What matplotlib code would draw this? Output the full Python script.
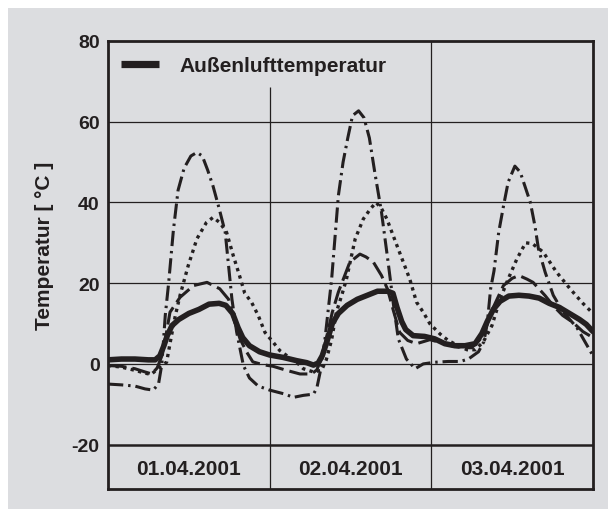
import matplotlib
matplotlib.use("Agg")
import matplotlib.pyplot as plt
from matplotlib.patches import Rectangle
from matplotlib.lines import Line2D

# ---------------- data (hours since 01.04.2001 00:00, temperature in °C) ----------------
dates = ["01.04.2001", "02.04.2001", "03.04.2001"]
yticks = [-20, 0, 20, 40, 60, 80]
legend_label = "Außenlufttemperatur"
ylabel = "Temperatur [ °C ]"

outside_h = [0, 2, 4, 6, 7, 7.7, 8.3, 8.8, 9.5, 10.5, 12, 13.5, 15, 16.5, 17.5, 18.5, 19.3,
             20, 21, 22.5, 24, 26, 28, 29.5, 30.5, 31.2, 31.8, 32.5, 33.3, 34.2, 35.5, 37,
             38.5, 40, 41.5, 42.3, 42.9, 43.6, 44.2, 45.3, 47, 48.5, 50, 51.5, 53, 54.5,
             55.5, 56.3, 57.2, 58.2, 59.5, 61, 62.5, 64, 65.5, 67, 68.5, 70, 71, 72]
outside_t = [1, 1.2, 1.2, 1, 1, 2, 4.5, 7, 9.5, 11, 12.5, 13.5, 14.8, 15, 14.5, 12.5, 9,
             6.5, 4.5, 3, 2.2, 1.6, 0.8, 0.3, -0.3, 0.2, 2, 5.5, 10, 12.5, 14.5, 16,
             17, 18, 18, 17.5, 14, 10.5, 8.5, 7, 6.8, 6.2, 5, 4.5, 4.5, 5,
             7.5, 10.5, 13.5, 15.5, 16.8, 17, 16.8, 16.3, 15, 14, 12.5, 11, 9.8, 8]

dashdot_h = [0, 2, 4, 5.5, 6.7, 7.5, 8.0, 8.5, 9.0, 9.7, 10.4, 11.3, 12.3, 13.2, 14, 14.8,
             15.6, 16.5, 17.4, 18.4, 19.1, 20.1, 21, 22.3, 24, 26.3, 27.5, 29, 30.5, 31,
             31.5, 32.2, 33.2, 34.2, 34.9, 35.6, 36.3, 37.2, 38, 38.8, 39.6, 40.6, 41.6,
             42.4, 43.1, 44.3, 45.6, 46.8, 48.5, 50.5, 52.3, 53.5, 55, 55.8, 56.3, 56.8,
             57.3, 58, 58.7, 59.4, 60.4, 61.2, 61.9, 62.7, 63.4, 63.9, 64.9, 66.1, 67.5,
             69.6, 70.8, 72]
dashdot_t = [-5, -5.2, -5.5, -6.2, -6.5, -5, 0, 12, 20, 33, 43, 48.5, 51.5, 52.4, 51.5, 48,
             44, 38.5, 32.6, 16, 7.9, -0.4, -3.5, -5.5, -6.5, -7.5, -8.3, -7.8, -7.5, -6,
             -2, 6, 21, 41.7, 50, 56, 61.5, 62.7, 61, 56, 47.5, 37.6, 25,
             14.4, 6.2, 1.2, -1.2, 0, 0.4, 0.6, 0.6, 1.2, 3, 5.5, 10, 18.6,
             23, 32.6, 39, 45, 49, 47.5, 44, 40, 34, 28.5, 22.7, 17, 13,
             9, 5.5, 2]

dotted_h = [0, 2, 4, 5.5, 6.4, 7.2, 8, 8.7, 9.2, 10, 10.7, 11.9, 13.2, 14.6, 15.6, 16.6,
            17.6, 18.6, 19.5, 20.3, 21.3, 22.3, 23.3, 24.5, 25.5, 27, 28, 29, 30.5, 31.7,
            32.4, 33.2, 33.9, 34.7, 35.4, 36.7, 37.9, 39, 39.8, 40.6, 41.4, 42.9, 44.8,
            45.8, 46.8, 47.8, 49.3, 50.5, 52, 53.3, 54.5, 55.7, 57, 58.2, 59.4, 60.7, 62,
            63, 64.6, 66.6, 68.6, 70.5, 72]
dotted_t = [-0.4, -0.8, -1.6, -2.3, -2.6, -1.5, -0.3, 0.4, 5, 12, 17, 24.3, 31, 35, 36.3, 35,
            32.6, 26.8, 22, 17.5, 15.3, 12, 7.8, 5.4, 3.3, 1.5, 0.4, -1.2, -2, -1.6,
            1, 6, 12.8, 17, 21, 31, 35.9, 38.5, 40, 38.5, 35.9, 29.3, 21,
            15.3, 12.8, 9.9, 7.4, 5.8, 4.5, 3.5, 3.5, 5.4, 9.5, 16, 21, 26, 30,
            29.8, 27.7, 22.7, 18.6, 15, 12.5]

dashed_h = [0, 2, 4, 5.5, 6.5, 7.3, 8, 8.6, 9.2, 10.7, 12.7, 14.7, 16.6, 17.9, 18.7, 19.6,
            20.6, 21.5, 23, 24.5, 26.5, 28.5, 30.2, 31, 31.7, 32.5, 33.3, 34.2, 35.9, 37.4,
            38.3, 39.4, 40.6, 41.5, 42.4, 43.3, 44.5, 45.8, 47.8, 49.5, 51, 52.5, 54, 55.2,
            56.2, 57.2, 58.7, 60, 61, 62.2, 63.1, 64.9, 66.1, 67.5, 69, 70.5, 72]
dashed_t = [-0.4, -0.6, -1.2, -2, -2.5, -1, 2, 7, 12.8, 16.5, 19.4, 20.2, 18.6, 16, 11, 6.2,
            2.9, 0.5, -0.2, -0.6, -1.6, -2.5, -2.5, -1.5, 1.5, 7, 12.8, 17.8, 25.2, 27.2,
            26.5, 25.2, 21.9, 18.5, 13, 7.8, 5.8, 5, 6, 5.2, 4.5, 4, 4, 6,
            9.5, 14, 19.4, 21.2, 21.9, 21, 20.2, 16.9, 14.4, 12, 10.3, 8, 6.5]

# ---------------- style ----------------
INK = "#231f20"
GRAY = "#dcdde0"
plt.rcParams["font.family"] = ["Liberation Sans", "DejaVu Sans"]
plt.rcParams["font.weight"] = "bold"

W, H = 608, 510
fig = plt.figure(figsize=(W / 100, H / 100), dpi=100, facecolor="white")
fig.patches.append(Rectangle((8 / W, 0), 1 - 8 / W, 1 - 9 / H, transform=fig.transFigure,
                             facecolor=GRAY, edgecolor="none", zorder=-10))

ax = fig.add_axes([108 / W, 1 - 490 / H, 485 / W, 448 / H])
ax.set_facecolor(GRAY)
ax.set_xlim(0, 72)
ax.set_ylim(-31, 80)

# grid
for v in [0, 20, 40, 60]:
    ax.axhline(v, color=INK, lw=0.9, zorder=1)
ax.axhline(-20, color=INK, lw=1.8, zorder=1)
ax.vlines(24, -31, 68.5, color=INK, lw=0.9, zorder=1)
ax.vlines(48, -31, 80, color=INK, lw=0.9, zorder=1)

# series
ax.plot(dashdot_h, dashdot_t, color=INK, lw=2.2, ls=(0, (5, 1.6, 0.8, 1.6)), zorder=3)
ax.plot(dotted_h, dotted_t, color=INK, lw=2.4, ls=(0, (1, 1.3)), zorder=3)
ax.plot(dashed_h, dashed_t, color=INK, lw=2.2, ls=(0, (6, 2)), zorder=3)
ax.plot(outside_h, outside_t, color=INK, lw=4, solid_capstyle="round",
        solid_joinstyle="round", zorder=4)

# axes styling
ax.set_xticks([])
ax.set_yticks(yticks)
ax.set_yticklabels([str(v) for v in yticks], fontsize=14, fontweight="bold", color=INK)
ax.tick_params(axis="y", length=0, pad=6)
for s in ax.spines.values():
    s.set_color(INK)
    s.set_linewidth(2)

# date labels in the band
for i, d in enumerate(dates):
    ax.text(24 * i + 12, -25.8, d, ha="center", va="center", fontsize=15,
            fontweight="bold", color=INK)

fig.text(44.6 / W, 1 - 246 / H, ylabel, rotation=90, ha="center", va="center",
         fontsize=15, fontweight="bold", color=INK)

proxy = Line2D([], [], color=INK, lw=5.2, solid_capstyle="butt")
ax.legend([proxy], [legend_label], loc="center left", bbox_to_anchor=(0.027, 0.945),
          frameon=False, handlelength=1.8, handletextpad=1.0, borderaxespad=0,
          borderpad=0, prop={"size": 15, "weight": "bold"}, labelcolor=INK)

fig.savefig("out.png", dpi=100, facecolor="white")
